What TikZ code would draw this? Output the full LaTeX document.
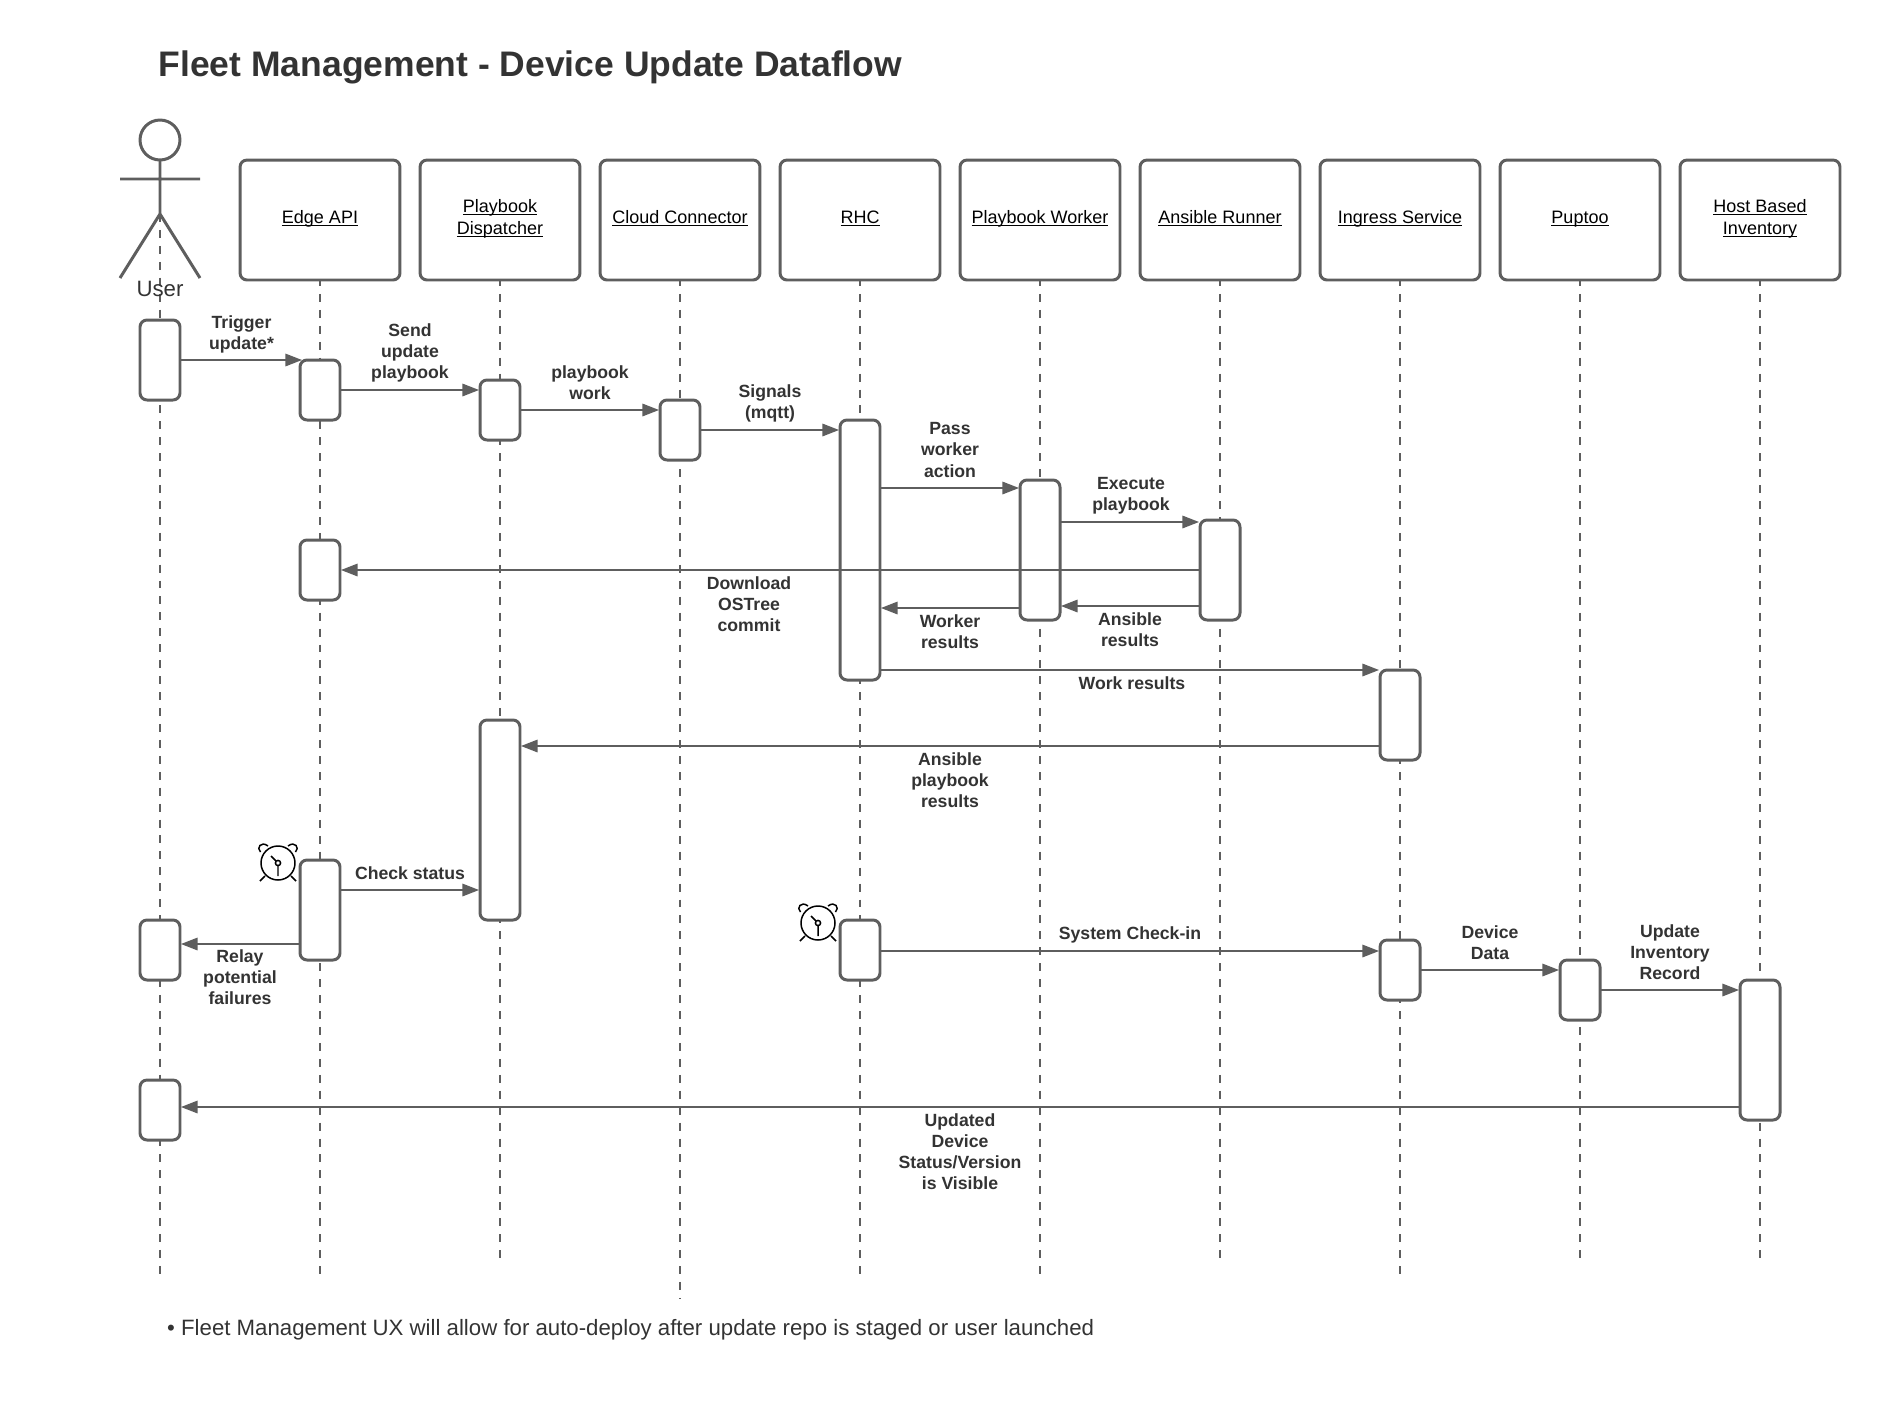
\documentclass[tikz,border=0pt]{standalone}
\usepackage{fontspec}
\setmainfont{Liberation Sans}
\usetikzlibrary{arrows.meta}
\definecolor{linegray}{HTML}{5E5E5E}
\definecolor{textgray}{HTML}{333333}
\tikzset{
	headbox/.style={draw=linegray,fill=white,line width=1.7pt,rounded corners=4pt,minimum width=3.2cm,minimum height=2.4cm,outer sep=0pt,align=center,text=black,font=\fontsize{10.25}{10.2}\selectfont},
	actbox/.style={draw=linegray,fill=white,line width=1.7pt,rounded corners=4pt,minimum width=0.8cm,outer sep=0pt,anchor=north},
	lifeline/.style={draw=linegray,line width=1.13pt,dash pattern=on 4.535pt off 4.535pt},
	msgline/.style={draw=linegray,line width=1.25pt,-{Triangle[length=9.5pt,width=7pt]},shorten >=0.5pt},
	msglbl/.style={align=center,text=textgray,font=\fontsize{10.05}{12}\selectfont\bfseries},
	clockicon/.pic={
		\draw[line width=0.85pt] (0,0) circle (17);
		\draw[line width=0.85pt] (0,0) circle (2.6);
		\draw[line width=0.85pt] (-2,-2)--(-7,-7) (0,3)--(0,13);
		\draw[line width=0.85pt] (-17.5,-11) .. controls (-22,-15) and (-17,-22.5) .. (-10,-17);
		\draw[line width=0.85pt] (17.5,-11) .. controls (22,-15) and (17,-22.5) .. (10,-17);
		\draw[line width=0.85pt] (-18,18)--(-13,13) (18,18)--(13,13);
	}
}
\newcommand{\msg}[3]{\draw[msgline] (#1 |- 0,#3) -- (#2 |- 0,#3);}
\newcommand{\headul}[1]{\setbox0\hbox{#1}\rlap{\rule[-1.6pt]{\wd0}{0.6pt}}\rule[-3.9pt]{0pt}{11.7pt}\box0}
\begin{document}
\begin{tikzpicture}[x=0.02cm,y=-0.02cm,line join=round,line cap=butt]
	\useasboundingbox (0,0) rectangle (1880,1400);
	\node[anchor=west,text=textgray,font=\fontsize{20.2}{24}\selectfont\bfseries] (title) at (152.5,67.5) {Fleet Management - Device Update Dataflow};
	\foreach \nam/\x/\yend in {usr/160/1280,edge/320/1280,disp/500/1258,cloud/680/1298,rhc/860/1278,work/1040/1278,runner/1220/1258,ingr/1400/1278,pup/1580/1258,inv/1760/1258}
		\coordinate (\nam End) at (\x,\yend);
	\coordinate (usrHip) at (160,214);
	\draw[lifeline] (usrHip)--(usrEnd);
	\foreach \nam/\x/\txt in {edge/320/{\headul{Edge API}},disp/500/{\headul{Playbook}\\\headul{Dispatcher}},cloud/680/{\headul{Cloud Connector}},rhc/860/{\headul{RHC}},work/1040/{\headul{Playbook Worker}},runner/1220/{\headul{Ansible Runner}},ingr/1400/{\headul{Ingress Service}},pup/1580/{\headul{Puptoo}},inv/1760/{\headul{Host Based}\\\headul{Inventory}}}{
		\node[headbox] (\nam) at (\x,220) {\txt};
		\draw[lifeline,dash phase=1.13pt] (\nam.south)--(\nam End);
	}
	\node[circle,draw=linegray,line width=1.7pt,minimum size=0.8cm,inner sep=0pt,outer sep=0pt] (usrHead) at (160,140) {};
	\draw[linegray,line width=1.7pt] (usrHead.south)--(usrHip) (120,179)--(200,179) (120,278)--(usrHip)--(200,278);
	\node[text=textgray,font=\fontsize{12.65}{15}\selectfont] (usr) at (160,289) {User};
	\foreach \nam/\x/\ya/\yb in {usrA/160/320/400,usrB/160/920/980,usrC/160/1080/1140,
		edgeA/320/360/420,edgeB/320/540/600,edgeC/320/860/960,
		dispA/500/380/440,dispB/500/720/920,cloudA/680/400/460,
		rhcA/860/420/680,rhcB/860/920/980,workA/1040/480/620,runnerA/1220/520/620,
		ingrA/1400/670/760,ingrB/1400/940/1000,pupA/1580/960/1020,invA/1760/980/1120}
		\node[actbox,minimum height={(\yb-\ya)*0.02cm}] (\nam) at (\x,\ya) {};
	\draw[msgline,shorten >=-1.2pt] (usrA.east |- 0,360) -- (edgeA.west |- 0,360);
	\msg{edgeA.east}{dispA.west}{390}
	\msg{dispA.east}{cloudA.west}{410}
	\msg{cloudA.east}{rhcA.west}{430}
	\msg{rhcA.east}{workA.west}{488}
	\msg{workA.east}{runnerA.west}{522}
	\msg{runnerA.west}{edgeB.east}{570}
	\msg{workA.west}{rhcA.east}{608}
	\msg{runnerA.west}{workA.east}{606}
	\msg{rhcA.east}{ingrA.west}{670}
	\msg{ingrA.west}{dispB.east}{746}
	\msg{edgeC.east}{dispB.west}{890}
	\msg{edgeC.west}{usrB.east}{944}
	\msg{rhcB.east}{ingrB.west}{951}
	\msg{ingrB.east}{pupA.west}{970}
	\msg{pupA.east}{invA.west}{990}
	\msg{invA.west}{usrC.east}{1107}
	\foreach \nam/\x/\y/\txt in {trig/241.5/334/{Trigger\\update*},send/410/353/{Send\\update\\playbook},play/590/383/{playbook\\work},sig/770/403/{Signals\\(mqtt)},pass/950/450/{Pass\\worker\\action},exec/1131/496/{Execute\\playbook},down/749/604/{Download\\OSTree\\commit},wres/950/632/{Worker\\results},ares/1130/630/{Ansible\\results},wkres/1132/683/{Work results},apres/950/780/{Ansible\\playbook\\results},chk/410/873/{Check status},sys/1130/935/{System Check-in},dev/1490/943/{Device\\Data},upd/1670/952/{Update\\Inventory\\Record},rel/240/977/{Relay\\potential\\failures},vis/960/1152/{Updated\\Device\\Status/Version\\is Visible}}
		\node[msglbl] (\nam) at (\x,\y) {\txt};
	\pic at (278,863) {clockicon};
	\pic at (818,923) {clockicon};
	\node[anchor=west,text=textgray,font=\fontsize{12.65}{15}\selectfont] (note) at (161,1330) {• Fleet Management UX will allow for auto-deploy after update repo is staged or user launched};
\end{tikzpicture}
\end{document}
